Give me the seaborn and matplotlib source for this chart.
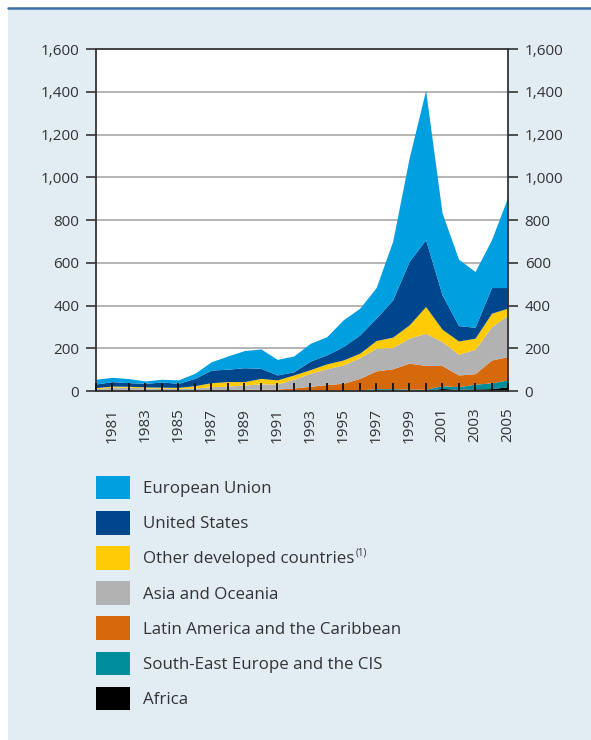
import matplotlib
matplotlib.use("Agg")
import matplotlib.pyplot as plt
from matplotlib.patches import Rectangle, Patch
from matplotlib.lines import Line2D
import seaborn as sns

# --- data (values per region) ---
years = list(range(1980, 2006))

africa = [2, 2, 2, 2, 2, 2, 2, 2, 2, 2, 2, 2, 2,
          3, 3, 3, 3, 3, 3, 3, 3, 12, 8, 10, 11, 20]
see_cis = [0, 0, 0, 0, 0, 0, 0, 0, 0, 0, 0, 0, 1,
           1, 1, 1, 2, 8, 8, 6, 5, 13, 12, 22, 27, 32]
latin_america = [3, 4, 4, 3, 3, 3, 4, 5, 5, 6, 6, 7, 11,
                 18, 26, 32, 54, 83, 93, 121, 112, 94, 55, 49, 107, 109]
asia_oceania = [6, 12, 12, 9, 8, 7, 8, 13, 16, 20, 25, 24, 41,
                61, 74, 86, 97, 106, 99, 117, 150, 112, 97, 114, 156, 195]
other_developed = [5, 5, 4, 5, 5, 5, 11, 19, 21, 16, 26, 19, 20,
                   17, 23, 23, 21, 36, 49, 62, 125, 58, 62, 52, 63, 32]
united_states = [17, 21, 17, 17, 24, 19, 34, 59, 58, 65, 47, 23, 15,
                 40, 42, 63, 85, 105, 174, 297, 313, 161, 72, 51, 120, 96]
european_union = [22, 20, 19, 11, 13, 16, 24, 39, 62, 80, 91, 73, 74,
                  83, 85, 125, 125, 143, 274, 484, 699, 383, 311, 261, 224, 426]

labels = ["Africa", "South-East Europe and the CIS", "Latin America and the Caribbean",
          "Asia and Oceania", "Other developed countries",
          "United States", "European Union"]
colors = ["#000000", "#008d9c", "#d5690c", "#b2b2b2", "#ffcb05", "#00468c", "#009fe0"]
footnote = "(1)"

y_ticks = list(range(0, 1601, 200))
x_label_years = list(range(1981, 2006, 2))

sns.set_theme(style="white")
plt.rcParams["font.family"] = ["Open Sans", "DejaVu Sans"]
text_col = "#333333"

fig = plt.figure(figsize=(5.91, 7.40), dpi=100, facecolor="white")

# light blue panel with a dark blue rule on top
fig.patches.append(Rectangle((8 / 591, 0), 1 - 8 / 591, 1 - 8.5 / 740,
                             transform=fig.transFigure, facecolor="#e1ecf3",
                             edgecolor="none", zorder=-10))
fig.lines.append(Line2D([8 / 591, 1], [1 - 8.3 / 740, 1 - 8.3 / 740],
                        transform=fig.transFigure, color="#3a6fa6", lw=1.8,
                        zorder=-5))

ax = fig.add_axes([96 / 591, 1 - 391 / 740, 412 / 591, 342 / 740])
ax.set_facecolor("white")
ax.set_axisbelow(False)

ax.stackplot(years, africa, see_cis, latin_america, asia_oceania,
             other_developed, united_states, european_union,
             colors=colors, linewidth=0, zorder=1)

for v in y_ticks[1:-1]:
    ax.axhline(v, color="#b4b4b4", lw=1.4, zorder=0.5)

ax.set_xlim(1980, 2005)
ax.set_ylim(0, 1600)
ax.grid(False)

ax.set_yticks(y_ticks)
ax.set_yticklabels([f"{v:,}" for v in y_ticks])
ax.tick_params(axis="y", which="major", direction="out", length=7, width=1.2,
               color=text_col, labelsize=11, labelcolor=text_col,
               left=True, right=True, labelleft=True, labelright=True, pad=5)

ax.set_xticks(years, minor=True)
ax.set_xticks(x_label_years)
ax.set_xticklabels([str(y) for y in x_label_years], rotation=90)
ax.tick_params(axis="x", which="both", direction="in", length=6, width=1.3,
               color="#111111", labelsize=11, labelcolor=text_col, pad=12,
               bottom=True, top=False)

for side in ["left", "right", "top", "bottom"]:
    ax.spines[side].set_color("#333333")
    ax.spines[side].set_linewidth(1.3)
    ax.spines[side].set_visible(True)

# legend (top of the stack first)
handles = [Patch(facecolor=c, edgecolor="none") for c in colors][::-1]
leg = fig.legend(handles, labels[::-1], loc="upper left",
                 bbox_to_anchor=(96 / 591, 1 - 476 / 740), frameon=False,
                 fontsize=12.2, labelcolor=text_col, handlelength=2.0,
                 handleheight=1.75, labelspacing=0.69, handletextpad=0.75,
                 borderpad=0, borderaxespad=0)

# superscript footnote marker after "Other developed countries"
fig.canvas.draw()
renderer = fig.canvas.get_renderer()
t = [tx for tx in leg.get_texts() if tx.get_text() == "Other developed countries"][0]
bb = t.get_window_extent(renderer).transformed(fig.transFigure.inverted())
fig.text(bb.x1 + 2 / 591, bb.y1 + 4 / 740, footnote, fontsize=7,
         color=text_col, ha="left", va="top")

fig.savefig("out.png", dpi=100, facecolor="white")
